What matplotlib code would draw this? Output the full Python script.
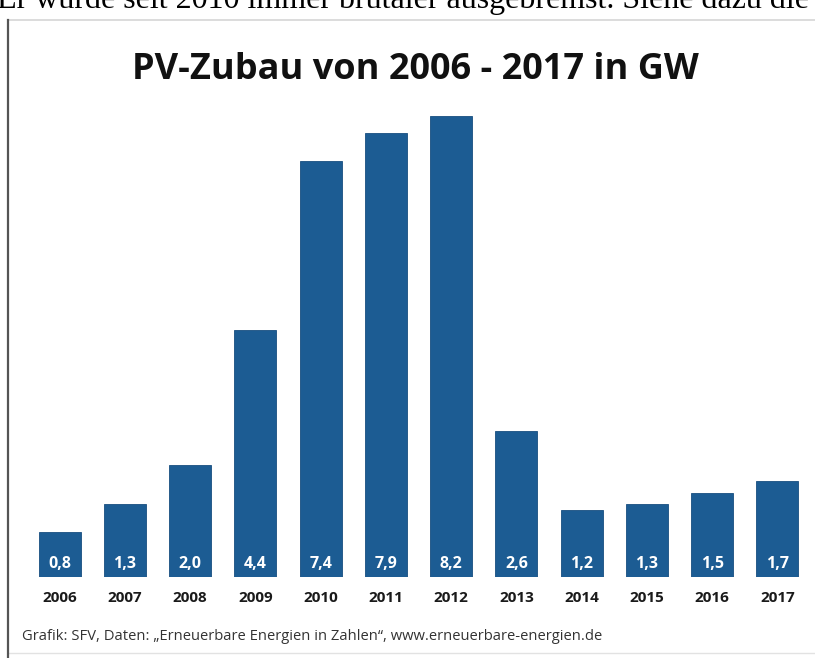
import matplotlib.pyplot as plt
from matplotlib.lines import Line2D

# Daten
jahre = ["2006", "2007", "2008", "2009", "2010", "2011",
         "2012", "2013", "2014", "2015", "2016", "2017"]
zubau_gw = [0.8, 1.3, 2.0, 4.4, 7.4, 7.9, 8.2, 2.6, 1.2, 1.3, 1.5, 1.7]
werte_text = ["0,8", "1,3", "2,0", "4,4", "7,4", "7,9",
              "8,2", "2,6", "1,2", "1,3", "1,5", "1,7"]

titel = "PV-Zubau von 2006 - 2017 in GW"
quelle = "Grafik: SFV, Daten: \u201eErneuerbare Energien in Zahlen\u201c, www.erneuerbare-energien.de"
kopfzeile = "Er wurde seit 2010 immer brutaler ausgebremst. Siehe dazu die"

blau = "#1c5c93"
W, H = 815, 658

fig = plt.figure(figsize=(W / 100, H / 100), dpi=100)
fig.patch.set_facecolor("white")

# Achse so legen, dass die Balken an der richtigen Stelle stehen
ax = fig.add_axes([27 / W, (H - 577) / H, 783 / W, 9 * 56.2 / H])
x = list(range(len(jahre)))
ax.bar(x, zubau_gw, width=0.64, color=blau, edgecolor="#174e80", linewidth=0.6)
ax.set_xlim(-0.5, len(jahre) - 0.5)
ax.set_ylim(0, 9)
ax.axis("off")

# Werte in den Balken, Jahre darunter
for i, t in enumerate(werte_text):
    ax.text(i, 0.24, t, ha="center", va="center", color="white",
            fontsize=11.5, fontweight="bold", family="Open Sans")
    ax.text(i, -0.37, jahre[i], ha="center", va="center", color="#1a1a1a",
            fontsize=11, fontweight="bold", family="Open Sans")

# Titel und Quelle
fig.text(415 / W, 1 - 70 / H, titel, ha="center", va="center",
         fontsize=26, fontweight="bold", family="Open Sans", color="#111111")
fig.text(22 / W, 1 - 636 / H, quelle, ha="left", va="center",
         fontsize=10.6, family="Open Sans", color="#333333")

# abgeschnittene Textzeile oben (im Original ebenfalls angeschnitten)
fig.text(-3 / W, 1 - 8 / H, kopfzeile, ha="left", va="baseline",
         fontsize=23, family="Liberation Serif", color="black")

# Rahmen
fig.add_artist(Line2D([8 / W, 1], [1 - 20 / H, 1 - 20 / H], color="#d6d6d6", lw=1.2))
fig.add_artist(Line2D([8 / W, 1], [1 - 653 / H, 1 - 653 / H], color="#e2e2e2", lw=1.0))
fig.add_artist(Line2D([8 / W, 8 / W], [1 - 20 / H, 0], color="#555555", lw=1.6))

plt.savefig("out.png", dpi=100)
